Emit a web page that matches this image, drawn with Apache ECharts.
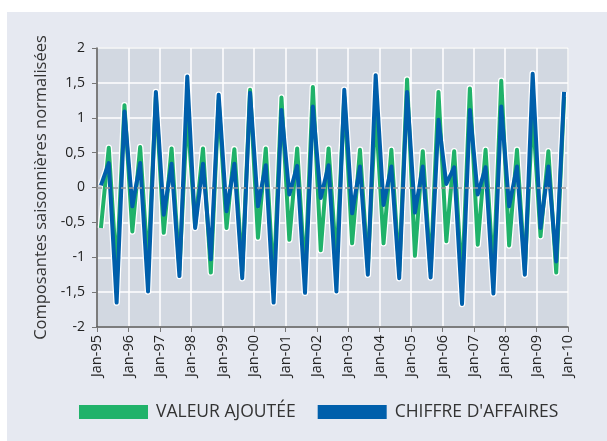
<!DOCTYPE html>
<html>
<head>
<meta charset="utf-8">
<script src="https://cdn.jsdelivr.net/npm/echarts@6/dist/echarts.min.js"></script>
<style>
  html, body { margin: 0; padding: 0; background: #fff; }
  #chart { width: 607px; height: 441px; }
</style>
</head>
<body>
<div id="chart"></div>
<script>
// quarterly seasonal components, Q1 1995 .. Q4 2009
const yearLabels = ['Jan-95', 'Jan-96', 'Jan-97', 'Jan-98', 'Jan-99', 'Jan-00', 'Jan-01', 'Jan-02',
  'Jan-03', 'Jan-04', 'Jan-05', 'Jan-06', 'Jan-07', 'Jan-08', 'Jan-09', 'Jan-10'];

const valeurAjoutee = [
  -0.58, 0.57, -1.22, 1.18, -0.63, 0.58, -1.15, 1.30,
  -0.65, 0.56, -1.18, 1.08, -0.55, 0.56, -1.22, 1.25,
  -0.58, 0.55, -1.20, 1.40, -0.72, 0.56, -1.38, 1.29,
  -0.75, 0.56, -1.28, 1.44, -0.90, 0.56, -1.08, 1.30,
  -0.80, 0.54, -1.15, 1.12, -0.80, 0.54, -1.20, 1.55,
  -0.98, 0.52, -1.20, 1.37, -0.77, 0.52, -1.38, 1.42,
  -0.82, 0.54, -1.25, 1.53, -0.83, 0.54, -1.18, 1.10,
  -0.70, 0.52, -1.22, 1.30
];

const chiffreAffaires = [
  0.03, 0.35, -1.65, 1.09, -0.27, 0.35, -1.49, 1.37,
  -0.39, 0.34, -1.27, 1.59, -0.58, 0.34, -1.03, 1.33,
  -0.34, 0.34, -1.30, 1.36, -0.27, 0.32, -1.65, 1.11,
  -0.10, 0.31, -1.51, 1.16, -0.15, 0.32, -1.49, 1.40,
  -0.37, 0.30, -1.25, 1.61, -0.25, 0.30, -1.30, 1.37,
  -0.36, 0.30, -1.29, 0.97, 0.05, 0.29, -1.67, 1.11,
  -0.10, 0.29, -1.52, 1.16, -0.27, 0.30, -1.25, 1.63,
  -0.58, 0.30, -1.06, 1.37
];

const GREEN = '#20b26a';
const BLUE = '#005fab';

// each quarter sits in the middle of its slot on the year axis
const toPoints = arr => arr.map((v, i) => [i + 0.5, v]);

const chart = echarts.init(document.getElementById('chart'));

const lineBase = {
  type: 'line',
  showSymbol: false,
  symbol: 'none',
  smooth: false,
  animation: false
};

chart.setOption({
  backgroundColor: '#ffffff',
  textStyle: { fontFamily: '"Open Sans", "DejaVu Sans", sans-serif' },
  graphic: [{
    type: 'rect',
    left: 7, top: 12,
    shape: { width: 600, height: 429 },
    style: { fill: '#e6e9f1' },
    z: -10, silent: true
  }],
  grid: {
    left: 97, right: 39, top: 48, bottom: 114,
    show: true,
    backgroundColor: '#d2d8e1',
    borderColor: '#a8adb5',
    borderWidth: 1
  },
  legend: {
    data: ['VALEUR AJOUTÉE', 'CHIFFRE D\'AFFAIRES'],
    top: 398,
    left: 74,
    itemWidth: 69,
    itemHeight: 14,
    itemGap: 22,
    icon: 'rect',
    textStyle: { fontSize: 17.5, color: '#333', fontFamily: '"Open Sans", sans-serif', padding: [0, 0, 0, 3] }
  },
  xAxis: {
    type: 'value',
    min: 0,
    max: 60,
    interval: 4,
    axisLine: { show: true, onZero: false, lineStyle: { color: '#555', width: 1.5 } },
    axisTick: { show: true, length: 5, lineStyle: { color: '#777' } },
    axisLabel: {
      rotate: 90,
      fontSize: 14.5,
      color: '#222',
      margin: 8,
      formatter: v => yearLabels[Math.round(v / 4)]
    },
    splitLine: { show: true, lineStyle: { color: '#ffffff', width: 1.5 } }
  },
  yAxis: {
    type: 'value',
    min: -2,
    max: 2,
    interval: 0.5,
    name: 'Composantes saisonnières normalisées',
    nameLocation: 'middle',
    nameGap: 41,
    nameTextStyle: { fontSize: 16.5, color: '#333' },
    axisLine: { show: true, lineStyle: { color: '#555', width: 1.5 } },
    axisTick: { show: true, length: 5, lineStyle: { color: '#777' } },
    axisLabel: {
      fontSize: 14,
      color: '#222',
      margin: 12,
      formatter: v => String(v).replace('.', ',')
    },
    splitLine: { show: true, lineStyle: { color: '#ffffff', width: 1.5 } }
  },
  series: [
    // white halo under both lines
    Object.assign({}, lineBase, {
      name: 'halo1', silent: true,
      data: toPoints(valeurAjoutee),
      lineStyle: { color: '#ffffff', width: 6.5, join: 'round' },
      markLine: {
        silent: true, symbol: 'none', label: { show: false },
        lineStyle: { color: '#999', type: [5, 3], width: 1.5 },
        data: [{ yAxis: 0 }]
      }
    }),
    Object.assign({}, lineBase, {
      name: 'halo2', silent: true,
      data: toPoints(chiffreAffaires),
      lineStyle: { color: '#ffffff', width: 6.5, join: 'round' }
    }),
    Object.assign({}, lineBase, {
      name: 'VALEUR AJOUTÉE',
      data: toPoints(valeurAjoutee),
      itemStyle: { color: GREEN },
      lineStyle: { color: GREEN, width: 4, join: 'round' }
    }),
    Object.assign({}, lineBase, {
      name: 'CHIFFRE D\'AFFAIRES',
      data: toPoints(chiffreAffaires),
      itemStyle: { color: BLUE },
      lineStyle: { color: BLUE, width: 4, join: 'round' }
    })
  ]
});
</script>
</body>
</html>
